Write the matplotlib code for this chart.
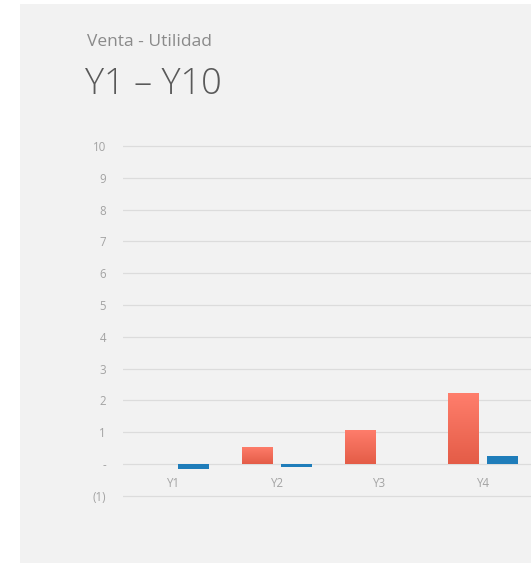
import numpy as np
import matplotlib
matplotlib.use("Agg")
from matplotlib import pyplot as plt
from matplotlib.colors import LinearSegmentedColormap
from matplotlib.patches import Rectangle

# Datos de las primeras columnas visibles
years = ['Y1', 'Y2', 'Y3', 'Y4']
venta = [0.0, 0.55, 1.08, 2.23]
utilidad = [-0.16, -0.08, 0.0, 0.26]

y_ticks = list(range(-1, 11))

plt.rcParams['font.family'] = ['Open Sans', 'DejaVu Sans']

W, H = 531, 563
fig = plt.figure(figsize=(W / 100, H / 100), dpi=100)
fig.patch.set_facecolor('white')

# panel gris de fondo
fig.patches.append(Rectangle((20 / W, 0), 1 - 20 / W, (H - 4) / H,
                             transform=fig.transFigure, facecolor='#f2f2f2',
                             edgecolor='none', zorder=-10))

fig.text(87 / W, 1 - 46 / H, 'Venta - Utilidad', fontsize=12.5,
         color='#8a8a8a', ha='left', va='baseline')
fig.text(85 / W, 1 - 94 / H, 'Y1 \u2013 Y10', fontsize=26, fontweight='light',
         color='#595959', ha='left', va='baseline')

# ejes: 0 en y=464px, 31.8 px por unidad; categorias cada 103 px desde 122.5
unit = 31.8
ymin, ymax = -1.1, 10.1
bottom_px = 464 + (-ymin) * unit
top_px = 464 - ymax * unit
left_px = 122.5
cat_px = 103.0
ax = fig.add_axes([left_px / W, 1 - bottom_px / H, 1 - left_px / W,
                   (bottom_px - top_px) / H])
ax.set_facecolor('none')

x = np.arange(len(years))
w = 0.3
off = 0.19

bars_v = ax.bar(x - off, venta, w, color='#f26b57', zorder=3)
bars_u = ax.bar(x + off, utilidad, w, color='#1f7dba', zorder=3)

# degradado en las barras de venta
cmap = LinearSegmentedColormap.from_list('venta', ['#e45c47', '#ff7e6c'])
grad = np.linspace(0, 1, 256).reshape(-1, 1)
for b in bars_v:
    if b.get_height() == 0:
        continue
    x0, y0 = b.get_x(), b.get_y()
    im = ax.imshow(grad, extent=[x0, x0 + b.get_width(), y0, y0 + b.get_height()],
                   origin='lower', cmap=cmap, aspect='auto', zorder=4)
    im.set_clip_path(b)

ax.set_xlim(-0.5, -0.5 + (W - left_px) / cat_px)
ax.set_ylim(ymin, ymax)

ax.set_yticks(y_ticks)
ax.set_yticklabels(['-' if v == 0 else ('(%d)' % -v if v < 0 else str(v)) for v in y_ticks])
ax.tick_params(axis='y', length=0, pad=12, labelsize=8.3, labelcolor='#a3a3a3')
ax.set_xticks([])
ax.grid(axis='y', color='#dcdcdc', linewidth=0.9, zorder=1)
for s in ax.spines.values():
    s.set_visible(False)

# etiquetas de categoria junto a la linea de cero
for i, name in enumerate(years):
    ax.annotate(name, (x[i], 0), xytext=(0, -13), textcoords='offset pixels',
                ha='center', va='top', fontsize=8.3, color='#a3a3a3')

fig.savefig('out.png', dpi=100, facecolor=fig.get_facecolor())
